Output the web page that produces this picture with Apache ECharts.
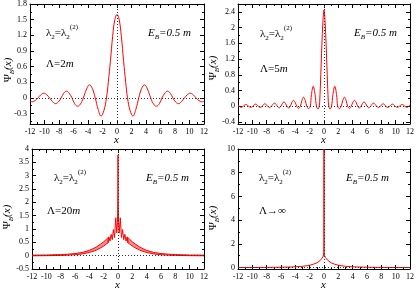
<!DOCTYPE html>
<html><head><meta charset="utf-8">
<script src="https://cdn.jsdelivr.net/npm/echarts@6/dist/echarts.min.js"></script>
<style>html,body{margin:0;padding:0;background:#fff}#c{width:416px;height:290px}</style>
</head><body><div id="c"></div>
<script>
// ---------- data ----------
// Panel 1 : Lambda = 2m
const p1X = [-12,-11.7,-11.3,-10.9,-10.5,-10.1,-9.7,-9.3,-8.9,-8.5,-8.1,-7.7,-7.35,-6.95,-6.6,-6.2,-5.85,-5.45,-5.05,-4.65,-4.2,-3.8,-3.4,-3.0,-2.6,-2.2,-1.8,-1.45,-1.2,-0.9,-0.6,-0.3,0,0.3,0.6,0.9,1.2,1.45,1.8,2.2,2.6,3.0,3.4,3.8,4.2,4.65,5.05,5.45,5.85,6.2,6.6,6.95,7.35,7.7,8.1,8.5,8.9,9.3,9.7,10.1,10.5,10.9,11.3,11.7,12];
const p1Y = [-0.07,-0.075,-0.05,0,0.06,0.09,0.06,0,-0.07,-0.11,-0.08,0,0.09,0.13,0.09,0,-0.11,-0.16,-0.12,0,0.17,0.25,0.18,0,-0.22,-0.35,-0.24,0,0.30,0.72,1.18,1.50,1.60,1.50,1.18,0.72,0.30,0,-0.24,-0.35,-0.22,0,0.18,0.25,0.17,0,-0.12,-0.16,-0.11,0,0.09,0.13,0.09,0,-0.08,-0.11,-0.07,0,0.06,0.09,0.06,0,-0.05,-0.075,-0.07];
// Panel 2 : Lambda = 5m
const p2X = [-12,-11.8,-11.55,-11.3,-10.9,-10.5,-10.25,-9.95,-9.55,-9.15,-8.9,-8.65,-8.25,-7.85,-7.6,-7.35,-6.9,-6.5,-6.25,-6.02,-5.6,-5.15,-4.92,-4.68,-4.48,-4.25,-4.02,-3.8,-3.55,-3.3,-3.08,-2.85,-2.62,-2.4,-2.15,-1.92,-1.75,-1.5,-1.25,-1.05,-0.85,-0.68,-0.6,-0.45,-0.3,-0.15,0,0.15,0.3,0.45,0.6,0.68,0.85,1.05,1.25,1.5,1.75,1.92,2.15,2.4,2.62,2.85,3.08,3.3,3.55,3.8,4.02,4.25,4.48,4.68,4.92,5.15,5.6,6.02,6.25,6.5,6.9,7.35,7.6,7.85,8.25,8.65,8.9,9.15,9.55,9.95,10.25,10.5,10.9,11.3,11.55,11.8,12];
const p2Y = [0.03,0,-0.03,0,0.045,0,-0.03,0,0.055,0,-0.03,0,0.065,0,-0.035,0,0.08,0,-0.04,0,0.11,0,-0.045,0,0.10,0.15,0.10,0,-0.05,0,0.15,0.23,0.15,0,-0.06,0,0.30,0.51,0.30,0,-0.07,0,0.12,0.80,1.55,2.15,2.45,2.15,1.55,0.80,0.12,0,-0.07,0,0.30,0.51,0.30,0,-0.06,0,0.15,0.23,0.15,0,-0.05,0,0.10,0.15,0.10,0,-0.045,0,0.11,0,-0.04,0,0.08,0,-0.035,0,0.065,0,-0.03,0,0.055,0,-0.03,0,0.045,0,-0.03,0,0.03];
// Panel 3 : Lambda = 20m  (central comb + dense oscillation band)
const p3cX = [-1.44,-1.28,-1.12,-0.96,-0.80,-0.64,-0.48,-0.32,-0.17,-0.07,-0.02,0,0.02,0.07,0.17,0.32,0.48,0.64,0.80,0.96,1.12,1.28,1.44];
const p3cY = [0.50,0.70,0.55,0.80,0.60,0.98,0.68,1.42,0.85,1.25,2.2,3.78,2.2,1.25,0.85,1.42,0.68,0.98,0.60,0.80,0.55,0.70,0.50];
const p3bXL = [-12,-10,-8,-7,-6,-5,-4,-3.5,-3,-2.5,-2,-1.6,-1.3];
const p3bUpL = [0.02,0.025,0.04,0.055,0.08,0.12,0.20,0.26,0.33,0.42,0.52,0.62,0.70];
const p3bLoL = [-0.005,0.0,0.01,0.02,0.035,0.065,0.12,0.16,0.21,0.28,0.36,0.44,0.50];
const p3bXR = [1.3,1.6,2,2.5,3,3.5,4,5,6,7,8,10,12];
const p3bUpR = [0.70,0.62,0.52,0.42,0.33,0.26,0.20,0.12,0.08,0.055,0.04,0.025,0.02];
const p3bLoR = [0.50,0.44,0.36,0.28,0.21,0.16,0.12,0.065,0.035,0.02,0.01,0.0,-0.005];
// Panel 4 : Lambda -> infinity
const p4X = [-12,-10,-8,-6,-5,-4,-3,-2.5,-2,-1.5,-1,-0.7,-0.5,-0.3,-0.2,-0.1,-0.05,-0.02,-0.005,0,0.005,0.02,0.05,0.1,0.2,0.3,0.5,0.7,1,1.5,2,2.5,3,4,5,6,8,10,12];
const p4Y = [0.005,0.01,0.015,0.03,0.045,0.065,0.11,0.15,0.20,0.28,0.40,0.52,0.62,0.75,0.85,0.97,1.05,1.3,2.5,10,2.5,1.3,1.05,0.97,0.85,0.75,0.62,0.52,0.40,0.28,0.20,0.15,0.11,0.065,0.045,0.03,0.015,0.01,0.005];

// tick labels
const xLabels = [-12,-10,-8,-6,-4,-2,0,2,4,6,8,10,12];
const y1Labels = [-0.3,0,0.3,0.6,0.9,1.2,1.5,1.8];
const y1Minor = [-0.45,-0.15,0.15,0.45,0.75,1.05,1.35,1.65];
const y2Labels = [-0.4,0,0.4,0.8,1.2,1.6,2,2.4];
const y2Minor = [-0.2,0.2,0.6,1,1.4,1.8,2.2];
const y3Labels = [-0.5,0,0.5,1,1.5,2,2.5,3,3.5,4];
const y3Minor = [-0.25,0.25,0.75,1.25,1.75,2.25,2.75,3.25,3.75];
const y4Labels = [0,2,4,6,8,10];
const y4Minor = [1,3,5,7,9];

// ---------- chart ----------
const SERIF = '"Liberation Serif","Times New Roman",serif';
const RED = '#ff0000';
const grids = [
  {left:30, top:4, width:174, height:120},
  {left:238, top:4, width:172, height:120},
  {left:32, top:149, width:172, height:120},
  {left:238, top:149, width:172, height:120}
];
const yRanges = [[-0.5,1.8],[-0.45,2.6],[-0.5,4],[-0.12,10]];
const yLab = [y1Labels,y2Labels,y3Labels,y4Labels];
const yMin = [y1Minor,y2Minor,y3Minor,y4Minor];

const xAxes = [], yAxes = [];
grids.forEach((g,i)=>{
  [ 'bottom','top' ].forEach(pos=>{
    xAxes.push({type:'value', gridIndex:i, position:pos, min:-12, max:12, interval:2,
      axisLine:{show:true, onZero:false, lineStyle:{color:'#000',width:1}},
      axisTick:{show:true, inside:true, length:4, lineStyle:{color:'#000'}},
      minorTick:{show:true, splitNumber:2, length:2, lineStyle:{color:'#000'}},
      axisLabel:{show:pos==='bottom', color:'#000', fontFamily:SERIF, fontSize:8, margin:4},
      splitLine:{show:false}, minorSplitLine:{show:false}});
  });
  [ 'left','right' ].forEach(pos=>{
    yAxes.push({type:'value', gridIndex:i, position:pos, min:yRanges[i][0], max:yRanges[i][1],
      axisLine:{show:true, onZero:false, lineStyle:{color:'#000',width:1}},
      axisTick:{show:true, inside:true, length:4, customValues:yLab[i], lineStyle:{color:'#000'}},
      axisLabel:{show:pos==='left', customValues:yLab[i], color:'#000', fontFamily:SERIF, fontSize:8, margin:3},
      splitLine:{show:false}});
    yAxes.push({type:'value', gridIndex:i, position:pos, min:yRanges[i][0], max:yRanges[i][1],
      axisLine:{show:false, onZero:false},
      axisTick:{show:true, inside:true, length:2, customValues:yMin[i], lineStyle:{color:'#000'}},
      axisLabel:{show:false},
      splitLine:{show:false}});
  });
});

const pairs = (xs, ys) => xs.map((x,k)=>[x, ys[k]]);

const series = [];
grids.forEach((g,i)=>{
  series.push({type:'line', xAxisIndex:2*i, yAxisIndex:4*i, data:[], z:1, silent:true,
    markLine:{silent:true, symbol:['none','none'], label:{show:false}, animation:false,
      lineStyle:{color:'#333', width:1, type:[1,2]},
      data:[{xAxis:0},{yAxis:0}]}});
});
const lineBase = {type:'line', showSymbol:false, symbol:'none', z:3, animation:false, clip:true,
  lineStyle:{color:RED, width:1}, itemStyle:{color:RED}};
series.push(Object.assign({}, lineBase, {xAxisIndex:0, yAxisIndex:0, smooth:0.4, data:pairs(p1X,p1Y)}));
series.push(Object.assign({}, lineBase, {xAxisIndex:2, yAxisIndex:4, smooth:0.4, data:pairs(p2X,p2Y)}));

// panel 3: dense oscillation drawn as a band between its envelopes
function bandSeries(xs, up, lo){
  return {type:'custom', xAxisIndex:4, yAxisIndex:8, z:3, silent:true, animation:false, clip:true,
    data:[[xs[0], up[0]]],
    renderItem:function(params, api){
      const pts = [];
      for (let k=0;k<xs.length;k++) pts.push(api.coord([xs[k], up[k]]));
      for (let k=xs.length-1;k>=0;k--) pts.push(api.coord([xs[k], lo[k]]));
      return {type:'polygon', shape:{points:pts},
        style:{fill:'rgba(255,40,40,0.55)', stroke:RED, lineWidth:1}};
    }};
}
series.push(bandSeries(p3bXL,p3bUpL,p3bLoL));
series.push(bandSeries(p3bXR,p3bUpR,p3bLoR));
series.push(Object.assign({}, lineBase, {xAxisIndex:4, yAxisIndex:8, data:pairs(p3cX,p3cY)}));
series.push(Object.assign({}, lineBase, {xAxisIndex:6, yAxisIndex:12, data:pairs(p4X,p4Y)}));

// ---------- text ----------
const rich = {
  n:{fontFamily:SERIF, fontSize:11, color:'#000', lineHeight:18, verticalAlign:'middle'},
  i:{fontFamily:SERIF, fontSize:11, fontStyle:'italic', color:'#000', lineHeight:18, verticalAlign:'middle'},
  sb:{fontFamily:SERIF, fontSize:7, color:'#000', lineHeight:18, verticalAlign:'bottom', padding:[0,0,1,0]},
  sbi:{fontFamily:SERIF, fontSize:7, fontStyle:'italic', color:'#000', lineHeight:18, verticalAlign:'bottom', padding:[0,0,1,0]},
  sp:{fontFamily:SERIF, fontSize:7, color:'#000', lineHeight:18, verticalAlign:'top'}
};
const lamText = '{n|λ}{sb|2}{n|=λ}{sb|2}{sp|(2)}';
const ebText = '{i|E}{sbi|B}{i|=0.5 m}';
const yName = '{n|Ψ}{sbi|B}{i|(x)}';
function txt(x, y, text, rot){
  return {type:'text', x:x, y:y, rotation:rot||0, silent:true,
    style:{text:text, rich:rich, align:rot?'center':'left', verticalAlign:'middle', fill:'#000'}};
}
const graphic = [
  txt(46,33,lamText), txt(148,33,ebText), txt(46,64,'{n|Λ=2}{i|m}'),
  txt(260,34,lamText), txt(354,33,ebText), txt(260,69,'{n|Λ=5}{i|m}'),
  txt(54,178,lamText), txt(146,178,ebText), txt(47,211,'{n|Λ=20}{i|m}'),
  txt(259,178,lamText), txt(346,178,ebText), txt(259,211,'{n|Λ→∞}'),
  txt(8,70,yName,Math.PI/2), txt(213,68,yName,Math.PI/2),
  txt(7,217,yName,Math.PI/2), txt(213,218,yName,Math.PI/2),
  txt(114,140,'{i|x}'), txt(321,140,'{i|x}'), txt(115,285,'{i|x}'), txt(321,285,'{i|x}')
];

const chart = echarts.init(document.getElementById('c'), null, {renderer:'canvas'});
chart.setOption({
  animation:false,
  grid: grids.map(g=>Object.assign({containLabel:false, outerBoundsMode:'none'}, g)),
  xAxis:xAxes, yAxis:yAxes, series:series, graphic:graphic
});
</script></body></html>
